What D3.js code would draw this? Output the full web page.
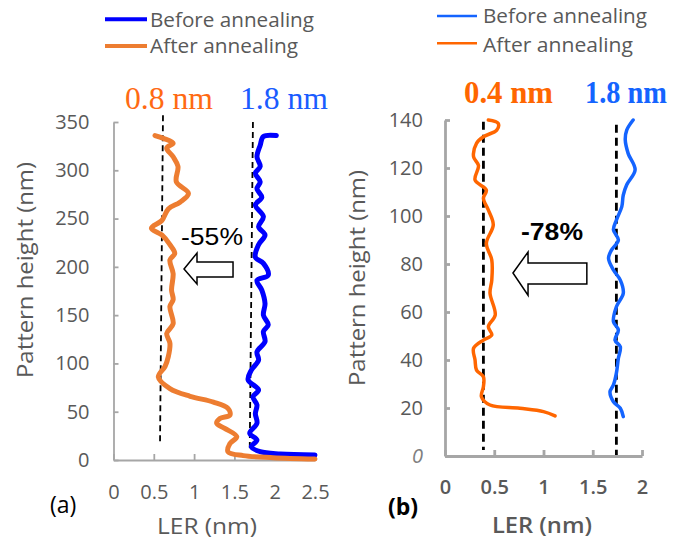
<!DOCTYPE html>
<html><head><meta charset="utf-8">
<script src="https://cdn.jsdelivr.net/npm/d3@7"></script>
<style>body{margin:0;background:#fff}svg{display:block}</style>
</head><body><svg id="c" width="676" height="540"></svg>
<script>
// ---- Data ----
const legendLabels = ["Before annealing", "After annealing"];
const xTicksA = [0, 0.5, 1, 1.5, 2, 2.5];
const yTicksA = [0, 50, 100, 150, 200, 250, 300, 350];
const xTicksB = [0, 0.5, 1, 1.5, 2];
const yTicksB = [0, 20, 40, 60, 80, 100, 120, 140];

// Panel (a)
const heightAfterA = [336,333,328,323,314,304,288,276,267,260,248,240,233,223,214,207,193,176,166,159,141,131,121,107,97,86,74,66,60,53.5,46.6,43,38,32.8,24,17,8.6,4.5,2.4,1];
const lerAfterA    = [0.515,0.62,0.74,0.66,0.74,0.80,0.78,0.93,0.825,0.68,0.60,0.47,0.60,0.70,0.76,0.70,0.74,0.72,0.74,0.70,0.74,0.66,0.70,0.68,0.64,0.556,0.70,0.95,1.24,1.42,1.445,1.32,1.28,1.38,1.53,1.445,1.42,1.61,1.98,2.5];
const heightBeforeA = [336,335,326,314,304,297,288,281,272,264,252,241.5,233,223,210,203.6,191.5,186,176,162,150,140,133,122.5,112,103.5,93,83,72.5,65.5,57,48,38,27.6,20.7,13.8,8.6,6.2,5.2];
const lerBeforeA    = [2.02,1.86,1.82,1.78,1.82,1.76,1.82,1.78,1.84,1.76,1.86,1.80,1.88,1.80,1.76,1.86,1.92,1.78,1.84,1.88,1.86,1.92,1.86,1.88,1.78,1.80,1.71,1.67,1.80,1.73,1.78,1.76,1.78,1.69,1.78,1.71,1.82,2.07,2.5];
const refAfterA  = [[0.614,357],[0.577,15.5]];
const refBeforeA = [[1.73,350],[1.69,8.6]];
const changeA = "-55%";
const refLabelsA = ["0.8 nm", "1.8 nm"];

// Panel (b)
const heightAfterB = [140,138.6,135.8,133,130.3,124.7,121,115,110.8,107.4,102.5,96.3,88.6,81.7,73.3,67.8,58.75,53.9,50.4,48.3,44.9,40,35.8,33,28.9,24.7,21.25,19.9,18.5,16.7];
const lerAfterB    = [0.44,0.54,0.525,0.39,0.32,0.29,0.34,0.305,0.42,0.39,0.44,0.49,0.42,0.475,0.475,0.457,0.51,0.44,0.475,0.39,0.29,0.305,0.32,0.39,0.39,0.37,0.457,0.76,1.0,1.117];
const heightBeforeB = [140,135.8,131.7,126,119.2,113,108.75,103.9,98.3,94.2,90,85.8,82.4,77.5,73.3,67.8,62.2,56,52.5,48.3,45.5,40.7,34.5,29.6,26.8,22.6,19.9,16.4];
const lerBeforeB    = [1.91,1.845,1.83,1.86,1.93,1.845,1.81,1.795,1.74,1.71,1.76,1.69,1.66,1.71,1.78,1.81,1.74,1.71,1.76,1.726,1.78,1.76,1.74,1.71,1.675,1.71,1.78,1.81];
const refAfterB  = [[0.39,139.3],[0.39,2.5]];
const refBeforeB = [[1.74,138],[1.74,0.4]];
const changeB = "-78%";
const refLabelsB = ["0.4 nm", "1.8 nm"];

// ---- Drawing ----
const svg = d3.select("#c");
const sans = "'Open Sans', 'DejaVu Sans', sans-serif";
const serif = "'Liberation Serif', 'DejaVu Serif', serif";
const gray = "#595959", axisGray = "#a6a6a6";

function panel(o) {
  const x = d3.scaleLinear().domain(o.xDomain).range(o.xRange);
  const y = d3.scaleLinear().domain(o.yDomain).range(o.yRange);
  const g = svg.append("g");

  // axes
  const ax = g.append("g").attr("transform", `translate(0,${o.yRange[0]})`)
    .call(d3.axisBottom(x).tickValues(o.xTicks).tickSizeInner(-6).tickSizeOuter(0)
      .tickPadding(o.xPad).tickFormat(d => String(d)));
  const ay = g.append("g").attr("transform", `translate(${o.xRange[0]},0)`)
    .call(d3.axisLeft(y).tickValues(o.yTicks).tickSizeInner(-5).tickSizeOuter(0)
      .tickPadding(o.yPad).tickFormat(d => String(d)));
  [ax, ay].forEach(a => {
    a.selectAll("path.domain").attr("stroke", axisGray).attr("stroke-width", o.axisW);
    a.selectAll(".tick line").attr("stroke", axisGray).attr("stroke-width", o.axisW);
    a.selectAll(".tick text").attr("fill", gray).style("font-family", sans).style("font-size", "20px");
  });
  ax.selectAll(".tick text").style("font-weight", o.bold ? 600 : 400);
  if (o.italicZero) ay.selectAll(".tick text").filter(d => d === 0)
      .style("font-style", "italic").attr("fill", "#7f7f7f");

  // reference dashed lines
  const line = d3.line().x(d => x(d[0])).y(d => y(d[1]));
  [o.refAfter, o.refBefore].forEach(r => g.append("path").attr("d", line(r))
      .attr("stroke", "#000").attr("stroke-width", o.dashW).attr("stroke-dasharray", o.dash).attr("fill", "none"));

  // data curves
  const curve = d3.line().x(d => x(d[0])).y(d => y(d[1])).curve(d3.curveCatmullRom.alpha(0.5));
  const mk = (v, h) => v.map((vv, i) => [vv, h[i]]);
  g.append("path").attr("d", curve(mk(o.lerBefore, o.hBefore))).attr("fill", "none")
    .attr("stroke", o.cBefore).attr("stroke-width", o.lineW).attr("stroke-linejoin", "round").attr("stroke-linecap", "round");
  g.append("path").attr("d", curve(mk(o.lerAfter, o.hAfter))).attr("fill", "none")
    .attr("stroke", o.cAfter).attr("stroke-width", o.lineW).attr("stroke-linejoin", "round").attr("stroke-linecap", "round");

  // arrow (in data units)
  const a = o.arrow;
  const pts = [[a.tip[0], a.tip[1]], [a.base, a.headTop], [a.base, a.bodyTop], [a.right, a.bodyTop],
               [a.right, a.bodyBot], [a.base, a.bodyBot], [a.base, a.headBot]];
  g.append("polygon").attr("points", pts.map(p => [x(p[0]), y(p[1])].join(",")).join(" "))
    .attr("fill", "#fff").attr("stroke", "#000").attr("stroke-width", 1.5);
  g.append("text").attr("x", o.changePos[0]).attr("y", o.changePos[1]).text(o.change)
    .style("font-family", "'Liberation Sans', Arial, sans-serif").style("font-size", "24px")
    .style("font-weight", o.bold ? 700 : 400).attr("textLength", 62).attr("lengthAdjust", "spacingAndGlyphs");

  // reference labels
  o.refLabels.forEach((t, i) => g.append("text").attr("x", o.refLabelPos[i][0]).attr("y", o.refLabelPos[i][1])
    .text(t).attr("fill", i === 0 ? o.cLabelAfter : o.cLabelBefore)
    .style("font-family", serif).style("font-size", "31px").style("font-weight", o.bold ? 700 : 400)
    .attr("textLength", o.refLabelLen[i]).attr("lengthAdjust", "spacingAndGlyphs"));

  // axis titles
  g.append("text").attr("x", o.xTitle[0]).attr("y", o.xTitle[1]).attr("text-anchor", "middle")
    .text("LER (nm)").attr("fill", gray).style("font-family", sans).style("font-size", "21px")
    .style("font-weight", o.bold ? 600 : 400).attr("textLength", 100).attr("lengthAdjust", "spacingAndGlyphs");
  g.append("text").attr("transform", `translate(${o.yTitle[0]},${o.yTitle[1]}) rotate(-90)`)
    .attr("text-anchor", "middle").text("Pattern height (nm)").attr("fill", gray)
    .style("font-family", sans).style("font-size", "21px").attr("textLength", 216).attr("lengthAdjust", "spacingAndGlyphs");
  g.append("text").attr("x", o.tag[0]).attr("y", o.tag[1]).text(o.tagText)
    .style("font-family", sans).style("font-size", "23px").style("font-weight", o.bold ? 700 : 400);

  // legend
  const L = o.legend;
  [[o.cBefore, legendLabels[0]], [o.cAfter, legendLabels[1]]].forEach((d, i) => {
    g.append("line").attr("x1", L.x0).attr("x2", L.x1).attr("y1", L.lineY[i]).attr("y2", L.lineY[i])
      .attr("stroke", d[0]).attr("stroke-width", L.w);
    g.append("text").attr("x", L.tx).attr("y", L.textY[i]).text(d[1]).attr("fill", gray)
      .style("font-family", sans).style("font-size", "20px")
      .attr("textLength", L.len[i]).attr("lengthAdjust", "spacingAndGlyphs");
  });
}

panel({
  xDomain: [0, 2.5], xRange: [113.5, 315], yDomain: [0, 350], yRange: [460, 122],
  xTicks: xTicksA, yTicks: yTicksA, xPad: 24.5, yPad: 24, axisW: 1.8,
  hAfter: heightAfterA, lerAfter: lerAfterA, hBefore: heightBeforeA, lerBefore: lerBeforeA,
  refAfter: refAfterA, refBefore: refBeforeA, dashW: 1.8, dash: "6,4",
  cAfter: "#ed7d31", cBefore: "#0000ff", lineW: 5,
  cLabelAfter: "#ff6a13", cLabelBefore: "#1a5cff",
  arrow: {tip: [0.875, 197.7], base: 1.036, right: 1.483, headTop: 214.3, headBot: 182.2, bodyTop: 205, bodyBot: 189.4},
  change: changeA, changePos: [181, 245],
  refLabels: refLabelsA, refLabelPos: [[125, 109], [240, 109]], refLabelLen: [88, 88],
  xTitle: [207, 534], yTitle: [33, 270], tag: [50, 513], tagText: "(a)",
  legend: {x0: 105, x1: 147, tx: 150, lineY: [19.3, 46], textY: [26.7, 53], w: 4, len: [164, 148]},
  bold: false, italicZero: false
});

panel({
  xDomain: [0, 2], xRange: [445, 642], yDomain: [0, 140], yRange: [456, 120],
  xTicks: xTicksB, yTicks: yTicksB, xPad: 23.5, yPad: 22, axisW: 2.8,
  hAfter: heightAfterB, lerAfter: lerAfterB, hBefore: heightBeforeB, lerBefore: lerBeforeB,
  refAfter: refAfterB, refBefore: refBeforeB, dashW: 2.8, dash: "8,5",
  cAfter: "#ff6600", cBefore: "#1464ff", lineW: 3.5,
  cLabelAfter: "#ff6600", cLabelBefore: "#1464ff",
  arrow: {tip: [0.69, 76.25], base: 0.843, right: 1.44, headTop: 85, headBot: 67, bodyTop: 80.4, bodyBot: 71.7},
  change: changeB, changePos: [521, 240],
  refLabels: refLabelsB, refLabelPos: [[464, 103], [585, 103]], refLabelLen: [89, 82],
  xTitle: [542, 533], yTitle: [365, 278], tag: [388, 515], tagText: "(b)",
  legend: {x0: 437, x1: 477, tx: 483, lineY: [16, 43.3], textY: [23.3, 51.7], w: 2.5, len: [164, 150]},
  bold: true, italicZero: true
});
</script></body></html>
